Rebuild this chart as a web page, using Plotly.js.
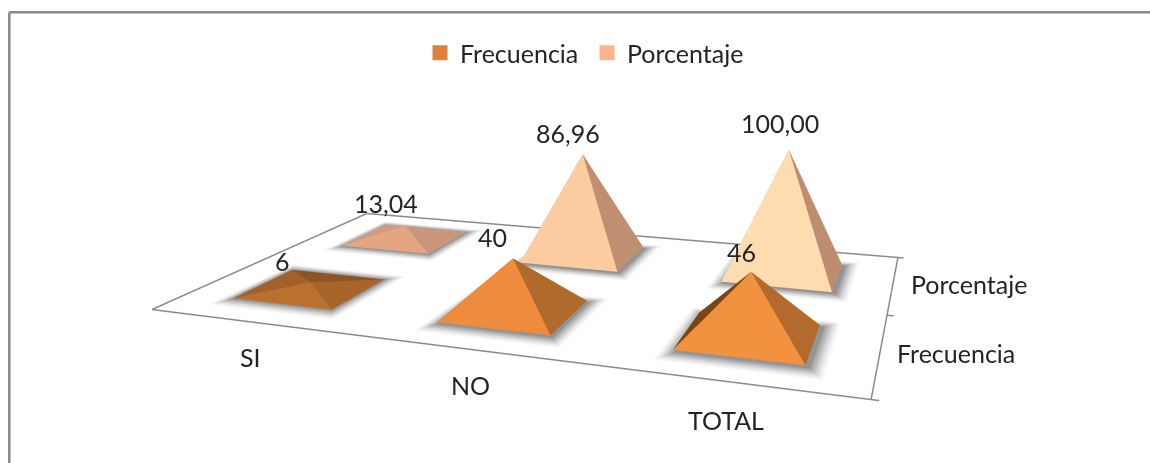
<!DOCTYPE html>
<html>
<head>
<meta charset="utf-8">
<script src="https://cdn.plot.ly/plotly-3.0.1.min.js"></script>
<style>
  html, body { margin: 0; padding: 0; background: #fff; }
  #frame { position: relative; width: 1150px; height: 463px; overflow: hidden; }
  #chart { position: absolute; left: 0; top: -205px; width: 1150px; height: 874px; }
</style>
</head>
<body>
<div id="frame"><div id="chart"></div></div>
<script>
// Categories and series
const categories = ['SI', 'NO', 'TOTAL'];
const seriesNames = ['Frecuencia', 'Porcentaje'];
const frecuencia = [6, 40, 46];
const porcentaje = [13.04, 86.96, 100.00];
const labelsFrecuencia = ['6', '40', '46'];
const labelsPorcentaje = ['13,04', '86,96', '100,00'];

// Legend swatches
const legendColors = ['#DC823C', '#FDB48C'];

// Face colours of each pyramid: front, right, back, left
const facesFrecuencia = [
  ['#BA702F', '#A96529', '#8E5522', '#A2612A'],
  ['#EE8B3C', '#B06A2C', '#8F5522', '#7A4515'],
  ['#F2923F', '#B36B2D', '#8F5522', '#7A4515']
];
const facesPorcentaje = [
  ['#E4A583', '#C8967A', '#BE8D72', '#D29C7C'],
  ['#FDCBA0', '#C08E70', '#B98A6C', '#B98A6C'],
  ['#FDDCB0', '#BE8C6E', '#B98A6C', '#B98A6C']
];

// Label offsets in pixels: value labels and floor-edge labels
const valueShiftX = [[-28, -20, -10], [-19, -15, -9]];
const valueShiftY = [[21, 21, 20], [23, 21, 27]];
const categoryShiftX = [1, 1, 0];
const categoryShiftY = [-35, -36, -39];
const seriesShiftX = [15, 16];
const seriesShiftY = [0, 0];

const HALF_BASE = 0.25;
const BASE_LEVEL = 0.9;
const GREY = '#8A8A8A';
const FONT = { family: 'Lato, "Open Sans", sans-serif', size: 25, color: '#242424' };

// Soft halo under each pyramid: stacked floor quads, widest and palest first
const haloGrowX = [0.060, 0.052, 0.044, 0.036, 0.028, 0.020, 0.012, 0.005];
const haloGrowY = [0.100, 0.087, 0.074, 0.060, 0.047, 0.034, 0.020, 0.008];
const haloGreys = ['#F7F7F7', '#EEEEEE', '#E2E2E2', '#D4D4D4', '#C4C4C4', '#B3B3B3', '#A3A3A3', '#939393'];

const flatLight = { ambient: 1, diffuse: 0, specular: 0, roughness: 1, fresnel: 0 };

function pyramid(cx, cy, value, colors) {
  const h = HALF_BASE;
  return {
    type: 'mesh3d', flatshading: true, showlegend: false, hoverinfo: 'skip', showscale: false,
    lighting: flatLight,
    x: [cx - h, cx + h, cx + h, cx - h, cx],
    y: [cy - h, cy - h, cy + h, cy + h, cy],
    z: [BASE_LEVEL, BASE_LEVEL, BASE_LEVEL, BASE_LEVEL, value],
    i: [0, 1, 2, 3], j: [1, 2, 3, 0], k: [4, 4, 4, 4],
    facecolor: colors
  };
}

function halo(cx, cy, step, lean) {
  const gx = HALF_BASE + haloGrowX[step];
  const gy = HALF_BASE + haloGrowY[step];
  const px = cx + lean * 0.015;
  const py = cy - lean * 0.02;
  const level = 0.1 + step * 0.1;
  return {
    type: 'mesh3d', flatshading: true, showlegend: false, hoverinfo: 'skip', showscale: false,
    lighting: flatLight,
    x: [px - gx, px + gx, px + gx, px - gx],
    y: [py - gy, py - gy, py + gy, py + gy],
    z: [level, level, level, level],
    i: [0, 0], j: [1, 2], k: [2, 3],
    color: haloGreys[step]
  };
}

const traces = [];
const annotations = [];
[frecuencia, porcentaje].forEach((values, s) => {
  const faces = s === 0 ? facesFrecuencia : facesPorcentaje;
  const labels = s === 0 ? labelsFrecuencia : labelsPorcentaje;
  values.forEach((v, c) => {
    const lean = Math.min(1, v / 46);
    haloGreys.forEach((_, n) => traces.push(halo(c + 0.5, s + 0.5, n, lean)));
    traces.push(pyramid(c + 0.5, s + 0.5, v, faces[c]));
    annotations.push({
      x: c + 0.5, y: s + 0.5, z: v, text: labels[c], showarrow: false,
      xshift: valueShiftX[s][c], yshift: valueShiftY[s][c], font: FONT
    });
  });
});

// Floor outline with the depth-axis ticks on its right edge
traces.push({
  type: 'scatter3d', mode: 'lines', showlegend: false, hoverinfo: 'skip',
  x: [0, 3, 3, 0, 0, null, 3, 3.027, null, 3, 3.027, null, 3, 3.027],
  y: [0, 0, 2, 2, 0, null, 0, 0, null, 1, 1, null, 2, 2],
  z: [0, 0, 0, 0, 0, null, 0, 0, null, 0, 0, null, 0, 0],
  line: { color: GREY, width: 3 }
});

// Category and series labels along the floor edges
categories.forEach((name, c) => annotations.push({
  x: c + 0.5, y: 0, z: 0, text: name, showarrow: false,
  xshift: categoryShiftX[c], yshift: categoryShiftY[c], font: FONT
}));
seriesNames.forEach((name, s) => annotations.push({
  x: 3, y: s + 0.5, z: 0, text: name, showarrow: false, xanchor: 'left',
  xshift: seriesShiftX[s], yshift: seriesShiftY[s], font: FONT
}));

// Legend entries live on a hidden 2D subplot
seriesNames.forEach((name, s) => traces.push({
  type: 'scatter', mode: 'markers', name: name, showlegend: true,
  x: [null], y: [null], xaxis: 'x', yaxis: 'y',
  marker: { symbol: 'square', size: 15, color: legendColors[s] }
}));

const H = 874, TOP = 205;
const py = p => 1 - (p + TOP) / H;

const layout = {
  width: 1150, height: H,
  margin: { l: 0, r: 0, t: 0, b: 0 },
  paper_bgcolor: '#FFFFFF',
  plot_bgcolor: 'rgba(0,0,0,0)',
  showlegend: true,
  xaxis: { visible: false, domain: [0, 0.01] },
  yaxis: { visible: false, domain: [0, 0.01] },
  legend: {
    orientation: 'h', x: 0.5 + 12 / 1150, xanchor: 'center', y: py(53), yanchor: 'middle',
    font: FONT, itemsizing: 'trace', bgcolor: 'rgba(0,0,0,0)', entrywidth: 122
  },
  scene: {
    domain: { x: [0, 1], y: [0, 1] },
    bgcolor: '#FFFFFF',
    aspectmode: 'manual',
    aspectratio: { x: 1.01333, y: 0.6067, z: 0.199 },
    camera: {
      eye: { x: 0.5441, y: -1.4595, z: 0.3925 },
      center: { x: 0.0323, y: 0, z: -0.0168 },
      up: { x: -0.0786, y: 0.2435, z: 0.9668 }
    },
    xaxis: { range: [0, 3.04], visible: false },
    yaxis: { range: [0, 2], visible: false },
    zaxis: { range: [0, 100], visible: false },
    annotations: annotations
  },
  shapes: [
    { type: 'line', xref: 'paper', yref: 'paper', x0: 9.3 / 1150, x1: 1, y0: py(12.3), y1: py(12.3),
      line: { color: GREY, width: 2.5 } },
    { type: 'line', xref: 'paper', yref: 'paper', x0: 9.3 / 1150, x1: 9.3 / 1150, y0: py(12.3), y1: py(480),
      line: { color: GREY, width: 2.5 } }
  ]
};

Plotly.newPlot('chart', traces, layout, { displayModeBar: false });
</script>
</body>
</html>
